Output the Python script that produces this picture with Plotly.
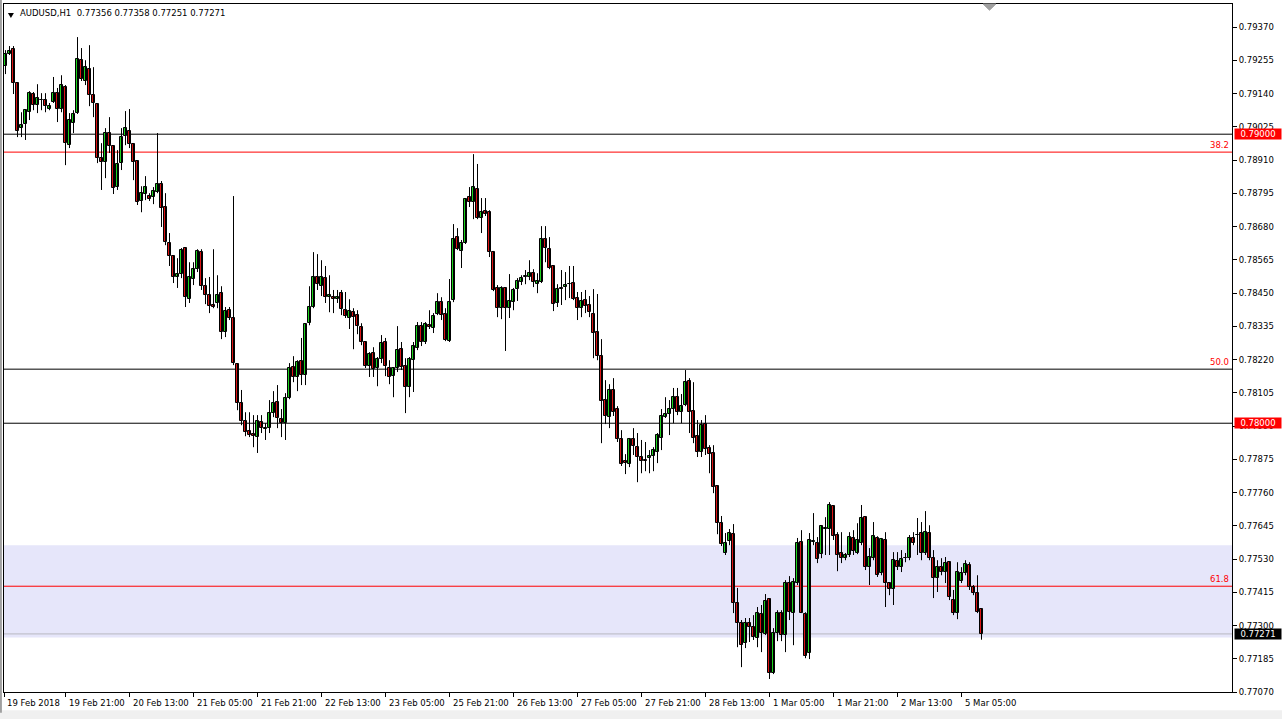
import plotly.graph_objects as go

# ---------------- data (AUDUSD H1) ----------------
opens = [0.79236,0.79277,0.79294,0.79177,0.79021,0.79035,0.79076,0.79139,0.79101,0.79118,
         0.79118,0.79087,0.79111,0.79142,0.79087,0.79163,0.78962,0.79038,0.79073,0.79256,
         0.79184,0.79225,0.79135,0.79104,0.78917,0.78903,0.79004,0.78959,0.78817,0.78900,
         0.78993,0.79011,0.78966,0.78907,0.78769,0.78793,0.78786,0.78782,0.78800,0.78827,
         0.78748,0.78623,0.78578,0.78506,0.78516,0.78606,0.78429,0.78499,0.78533,0.78592,
         0.78474,0.78443,0.78409,0.78416,0.78450,0.78315,0.78391,0.78364,0.78205,0.78070,
         0.78007,0.77973,0.77962,0.77952,0.78004,0.77980,0.77983,0.78035,0.78073,0.78014,
         0.78000,0.78087,0.78194,0.78160,0.78215,0.78166,0.78346,0.78402,0.78506,0.78474,
         0.78502,0.78436,0.78436,0.78429,0.78450,0.78391,0.78364,0.78384,0.78374,0.78333,
         0.78281,0.78198,0.78243,0.78191,0.78222,0.78281,0.78191,0.78163,0.78191,0.78256,
         0.78198,0.78125,0.78218,0.78260,0.78336,0.78281,0.78339,0.78329,0.78378,0.78419,
         0.78378,0.78284,0.78426,0.78644,0.78596,0.78623,0.78782,0.78765,0.78810,0.78710,
         0.78734,0.78730,0.78592,0.78468,0.78398,0.78468,0.78398,0.78419,0.78464,0.78488,
         0.78506,0.78506,0.78519,0.78481,0.78488,0.78637,0.78602,0.78544,0.78416,0.78468,
         0.78471,0.78481,0.78485,0.78433,0.78398,0.78426,0.78409,0.78378,0.78315,0.78232,
         0.78080,0.78021,0.78115,0.78049,0.77945,0.77869,0.77859,0.77945,0.77917,0.77883,
         0.77872,0.77879,0.77886,0.77900,0.77949,0.78021,0.78032,0.78049,0.78090,0.78038,
         0.78063,0.78146,0.78042,0.77955,0.77900,0.77997,0.77914,0.77897,0.77782,0.77654,
         0.77551,0.77592,0.77616,0.77378,0.77308,0.77239,0.77308,0.77295,0.77257,0.77340,
         0.77270,0.77391,0.77135,0.77274,0.77343,0.77267,0.77447,0.77343,0.77447,0.77589,
         0.77340,0.77205,0.77589,0.77585,0.77547,0.77634,0.77634,0.77713,0.77613,0.77551,
         0.77533,0.77544,0.77603,0.77551,0.77585,0.77675,0.77502,0.77533,0.77603,0.77481,
         0.77596,0.77447,0.77426,0.77523,0.77502,0.77533,0.77533,0.77603,0.77613,0.77620,
         0.77551,0.77620,0.77533,0.77464,0.77502,0.77485,0.77519,0.77388,0.77343,0.77454,
         0.77481,0.77509,0.77433,0.77412,0.77356]
highs = [0.79291,0.79305,0.79305,0.79180,0.79076,0.79087,0.79149,0.79146,0.79173,0.79142,
         0.79142,0.79108,0.79198,0.79160,0.79204,0.79170,0.79073,0.79083,0.79336,0.79298,
         0.79256,0.79308,0.79232,0.79108,0.78969,0.79021,0.79059,0.78960,0.78945,0.79021,
         0.79080,0.79087,0.78969,0.78910,0.78820,0.78855,0.78796,0.78817,0.79004,0.78838,
         0.78796,0.78658,0.78582,0.78571,0.78606,0.78609,0.78557,0.78557,0.78602,0.78602,
         0.78502,0.78506,0.78602,0.78512,0.78474,0.78402,0.78402,0.78786,0.78208,0.78115,
         0.78038,0.78038,0.78028,0.78028,0.78028,0.78000,0.78080,0.78111,0.78132,0.78049,
         0.78104,0.78208,0.78232,0.78218,0.78295,0.78346,0.78474,0.78592,0.78585,0.78564,
         0.78544,0.78512,0.78461,0.78461,0.78461,0.78454,0.78429,0.78398,0.78391,0.78346,
         0.78284,0.78246,0.78263,0.78229,0.78305,0.78295,0.78218,0.78194,0.78336,0.78281,
         0.78225,0.78229,0.78281,0.78350,0.78350,0.78350,0.78391,0.78381,0.78450,0.78436,
         0.78398,0.78499,0.78689,0.78675,0.78634,0.78779,0.78817,0.78931,0.78897,0.78779,
         0.78779,0.78737,0.78596,0.78478,0.78474,0.78471,0.78516,0.78468,0.78502,0.78512,
         0.78530,0.78564,0.78533,0.78519,0.78682,0.78682,0.78644,0.78547,0.78481,0.78530,
         0.78523,0.78544,0.78544,0.78454,0.78454,0.78461,0.78440,0.78464,0.78447,0.78291,
         0.78149,0.78135,0.78156,0.78059,0.77976,0.77893,0.77949,0.77983,0.77966,0.77942,
         0.77935,0.77907,0.77917,0.77966,0.78049,0.78090,0.78080,0.78122,0.78122,0.78101,
         0.78184,0.78156,0.78142,0.78011,0.78011,0.78028,0.77924,0.77924,0.77786,0.77679,
         0.77620,0.77634,0.77651,0.77430,0.77319,0.77326,0.77326,0.77336,0.77364,0.77371,
         0.77409,0.77395,0.77291,0.77353,0.77353,0.77457,0.77471,0.77464,0.77603,0.77630,
         0.77346,0.77620,0.77689,0.77606,0.77647,0.77675,0.77727,0.77717,0.77623,0.77623,
         0.77551,0.77623,0.77630,0.77654,0.77717,0.77679,0.77568,0.77658,0.77609,0.77603,
         0.77623,0.77450,0.77554,0.77554,0.77561,0.77551,0.77613,0.77623,0.77672,0.77658,
         0.77696,0.77647,0.77561,0.77526,0.77533,0.77537,0.77523,0.77423,0.77519,0.77502,
         0.77526,0.77519,0.77440,0.77474,0.77358]
lows = [0.79208,0.79274,0.79139,0.78990,0.78990,0.78980,0.79049,0.79083,0.79073,0.79083,
        0.79076,0.79083,0.79108,0.79042,0.79076,0.78893,0.78952,0.79004,0.79070,0.79184,
        0.79170,0.79097,0.79059,0.78900,0.78807,0.78848,0.78935,0.78793,0.78807,0.78876,
        0.78962,0.78952,0.78841,0.78755,0.78730,0.78772,0.78769,0.78758,0.78796,0.78679,
        0.78616,0.78544,0.78485,0.78468,0.78502,0.78402,0.78416,0.78478,0.78523,0.78461,
        0.78412,0.78381,0.78398,0.78398,0.78291,0.78298,0.78357,0.78201,0.78045,0.77993,
        0.77955,0.77952,0.77917,0.77897,0.77966,0.77942,0.77966,0.78021,0.77983,0.77952,
        0.77942,0.78083,0.78142,0.78111,0.78132,0.78132,0.78339,0.78398,0.78461,0.78440,
        0.78416,0.78384,0.78381,0.78416,0.78374,0.78364,0.78326,0.78256,0.78308,0.78270,
        0.78191,0.78160,0.78160,0.78128,0.78208,0.78163,0.78135,0.78090,0.78177,0.78184,
        0.78035,0.78090,0.78108,0.78253,0.78267,0.78274,0.78326,0.78312,0.78374,0.78357,
        0.78284,0.78281,0.78419,0.78599,0.78537,0.78620,0.78748,0.78706,0.78706,0.78658,
        0.78717,0.78575,0.78457,0.78367,0.78360,0.78250,0.78364,0.78391,0.78423,0.78478,
        0.78481,0.78495,0.78471,0.78450,0.78485,0.78557,0.78533,0.78388,0.78402,0.78409,
        0.78426,0.78433,0.78426,0.78357,0.78367,0.78381,0.78367,0.78225,0.78218,0.77931,
        0.77997,0.77983,0.78025,0.77935,0.77852,0.77824,0.77848,0.77890,0.77796,0.77827,
        0.77834,0.77827,0.77834,0.77862,0.77907,0.78018,0.77959,0.78000,0.78028,0.78000,
        0.78059,0.77966,0.77931,0.77883,0.77883,0.77890,0.77827,0.77758,0.77616,0.77575,
        0.77544,0.77578,0.77343,0.77225,0.77156,0.77222,0.77243,0.77250,0.77225,0.77208,
        0.77267,0.77115,0.77132,0.77246,0.77246,0.77208,0.77319,0.77232,0.77440,0.77343,
        0.77187,0.77184,0.77578,0.77516,0.77533,0.77544,0.77544,0.77596,0.77488,0.77516,
        0.77526,0.77537,0.77544,0.77547,0.77578,0.77492,0.77440,0.77526,0.77468,0.77474,
        0.77364,0.77405,0.77371,0.77492,0.77485,0.77519,0.77526,0.77578,0.77544,0.77526,
        0.77544,0.77526,0.77395,0.77416,0.77474,0.77447,0.77388,0.77336,0.77322,0.77447,
        0.77474,0.77423,0.77405,0.77343,0.77251]
closes = [0.79277,0.79288,0.79177,0.79011,0.79031,0.79083,0.79142,0.79101,0.79125,0.79120,
          0.79097,0.79097,0.79142,0.79087,0.79170,0.78969,0.79049,0.79070,0.79260,0.79191,
          0.79232,0.79135,0.79108,0.78917,0.78903,0.79004,0.78959,0.78814,0.78897,0.78990,
          0.79021,0.78966,0.78903,0.78765,0.78796,0.78817,0.78775,0.78803,0.78827,0.78744,
          0.78627,0.78578,0.78506,0.78516,0.78599,0.78436,0.78506,0.78533,0.78596,0.78474,
          0.78443,0.78405,0.78402,0.78443,0.78315,0.78388,0.78364,0.78208,0.78070,0.78007,
          0.77969,0.77959,0.77955,0.78007,0.77983,0.77983,0.78035,0.78070,0.78018,0.78000,
          0.78087,0.78191,0.78160,0.78211,0.78166,0.78343,0.78402,0.78506,0.78481,0.78506,
          0.78436,0.78443,0.78429,0.78436,0.78395,0.78371,0.78388,0.78367,0.78336,0.78281,
          0.78198,0.78239,0.78187,0.78222,0.78277,0.78198,0.78160,0.78191,0.78253,0.78194,
          0.78125,0.78222,0.78267,0.78336,0.78281,0.78343,0.78333,0.78371,0.78419,0.78374,
          0.78288,0.78419,0.78637,0.78602,0.78623,0.78775,0.78765,0.78817,0.78710,0.78730,
          0.78724,0.78592,0.78461,0.78398,0.78468,0.78398,0.78423,0.78461,0.78492,0.78502,
          0.78509,0.78519,0.78488,0.78492,0.78637,0.78606,0.78537,0.78412,0.78464,0.78464,
          0.78478,0.78482,0.78429,0.78398,0.78423,0.78405,0.78384,0.78312,0.78232,0.78077,
          0.78025,0.78115,0.78038,0.77945,0.77859,0.77862,0.77945,0.77921,0.77883,0.77869,
          0.77870,0.77886,0.77907,0.77959,0.78025,0.78032,0.78049,0.78090,0.78038,0.78059,
          0.78142,0.78038,0.77949,0.77900,0.77993,0.77910,0.77893,0.77779,0.77654,0.77582,
          0.77585,0.77620,0.77378,0.77308,0.77232,0.77308,0.77295,0.77260,0.77343,0.77274,
          0.77385,0.77135,0.77274,0.77343,0.77267,0.77447,0.77346,0.77450,0.77585,0.77345,
          0.77194,0.77596,0.77592,0.77530,0.77644,0.77637,0.77717,0.77609,0.77544,0.77533,
          0.77544,0.77606,0.77558,0.77596,0.77672,0.77502,0.77537,0.77609,0.77474,0.77599,
          0.77447,0.77426,0.77526,0.77502,0.77530,0.77534,0.77603,0.77585,0.77614,0.77551,
          0.77623,0.77533,0.77464,0.77502,0.77485,0.77516,0.77398,0.77343,0.77485,0.77481,
          0.77513,0.77433,0.77412,0.77346,0.77271]

date_labels = ["19 Feb 21:00", "20 Feb 13:00", "21 Feb 05:00", "21 Feb 21:00",
               "22 Feb 13:00", "23 Feb 05:00", "25 Feb 21:00", "26 Feb 13:00",
               "27 Feb 05:00", "27 Feb 21:00", "28 Feb 13:00", "1 Mar 05:00",
               "1 Mar 21:00", "2 Mar 13:00", "5 Mar 05:00"]
date_label_bars = [15, 31, 47, 63, 79, 95, 111, 127, 143, 159, 175, 191, 207, 223, 239]
first_label = "19 Feb 2018"

price_ticks = [0.79370, 0.79255, 0.79140, 0.79025, 0.78910, 0.78795, 0.78680,
               0.78565, 0.78450, 0.78335, 0.78220, 0.78105, 0.77990, 0.77875,
               0.77760, 0.77645, 0.77530, 0.77415, 0.77300, 0.77185, 0.77070]

hline_black = [0.79000, 0.78187, 0.78000]
fib_levels = {"38.2": 0.78938, "50.0": 0.78187, "61.8": 0.77436}
red_lines = [0.78938, 0.77436]
zone_low, zone_high = 0.77259, 0.77578
bid = 0.77271
boxed_prices = [(0.79000, "#ff0000"), (0.78000, "#ff0000"), (0.77271, "#000000")]
title_text = "AUDUSD,H1  0.77356 0.77358 0.77251 0.77271"

# ---------------- figure ----------------
n = len(opens)
xs = list(range(n))
FONT = "DejaVu Sans"
FS = 8.5
BULL = "#1ed21e"
BEAR = "#dc1414"

# wicks
wx, wy = [], []
for i in xs:
    wx += [i, i, None]
    wy += [lows[i], highs[i], None]

body_base = [min(o, c) for o, c in zip(opens, closes)]
body_len = [max(abs(c - o), 0.000015) for o, c in zip(opens, closes)]
body_col = [BULL if c >= o else BEAR for o, c in zip(opens, closes)]

fig = go.Figure()
fig.add_trace(go.Scatter(x=wx, y=wy, mode="lines", line=dict(color="black", width=1),
                         hoverinfo="skip", showlegend=False))
fig.add_trace(go.Bar(x=xs, y=body_len, base=body_base, width=0.62,
                     marker=dict(color=body_col, line=dict(color="black", width=1)),
                     hoverinfo="skip", showlegend=False))

x0, x1 = -0.375, 306.625
y0, y1 = 0.77070, 0.794505

shapes = []
shapes.append(dict(type="rect", xref="paper", yref="y", x0=0, x1=1, y0=zone_low, y1=zone_high,
                   fillcolor="#e6e6fa", line=dict(width=0), layer="below"))
for p in hline_black:
    shapes.append(dict(type="line", xref="paper", yref="y", x0=0, x1=1, y0=p, y1=p,
                       line=dict(color="#000000", width=1), layer="below"))
for p in red_lines:
    shapes.append(dict(type="line", xref="paper", yref="y", x0=0, x1=1, y0=p, y1=p,
                       line=dict(color="#ff0000", width=1), layer="below"))
shapes.append(dict(type="line", xref="paper", yref="y", x0=0, x1=1, y0=bid, y1=bid,
                   line=dict(color="#b8b8c0", width=1), layer="below"))
# bottom grey strip
shapes.append(dict(type="rect", xref="paper", yref="paper", x0=-0.01, x1=1.05, y0=-0.045, y1=-0.0265,
                   fillcolor="#f0f0f0", line=dict(width=0), layer="below"))
# left window frame
shapes.append(dict(type="rect", xref="paper", yref="paper", x0=-0.0033, x1=-0.0017, y0=-0.03, y1=1.006,
                   fillcolor="#a0a0a0", line=dict(width=0), layer="below"))
# chart-shift marker
shapes.append(dict(type="path", xref="x", yref="paper",
                   path="M 244.4 1 L 247.6 1 L 246 0.991 Z",
                   fillcolor="#a0a0a0", line=dict(color="#a0a0a0", width=1)))
# title triangle
shapes.append(dict(type="path", xref="x", yref="paper",
                   path="M 0.6 0.9868 L 2.1 0.9868 L 1.35 0.9795 Z",
                   fillcolor="#000000", line=dict(color="#000000", width=0)))

annotations = []
annotations.append(dict(text=title_text, xref="x", yref="paper", x=3.0, y=0.9866,
                        xanchor="left", yanchor="middle", showarrow=False,
                        font=dict(family=FONT, size=FS, color="black")))
annotations.append(dict(text=first_label, xref="x", yref="paper", x=x0, y=0,
                        xanchor="left", yanchor="top", yshift=-4, xshift=1, showarrow=False,
                        font=dict(family=FONT, size=FS, color="black")))
for b, t in zip(date_label_bars, date_labels):
    annotations.append(dict(text=t, xref="x", yref="paper", x=b, y=0,
                            xanchor="left", yanchor="top", yshift=-4, xshift=1, showarrow=False,
                            font=dict(family=FONT, size=FS, color="black")))
for lab, p in fib_levels.items():
    annotations.append(dict(text=lab, xref="paper", yref="y", x=1, y=p,
                            xanchor="right", yanchor="bottom", xshift=-1, showarrow=False,
                            font=dict(family=FONT, size=FS, color="#ff0000")))
for p, col in boxed_prices:
    annotations.append(dict(text="%.5f" % p, xref="paper", yref="y", x=1, y=p,
                            xanchor="left", yanchor="middle", xshift=2, showarrow=False,
                            bgcolor=col, borderpad=0, width=46,
                            font=dict(family=FONT, size=FS, color="white")))

fig.update_layout(
    width=1282, height=719,
    margin=dict(l=4, r=50, t=4, b=27, autoexpand=False),
    paper_bgcolor="white", plot_bgcolor="white",
    shapes=shapes, annotations=annotations,
    bargap=0,
    xaxis=dict(range=[x0, x1], showgrid=False, zeroline=False,
               showline=True, mirror=True, linecolor="black", linewidth=1,
               tickvals=[x0 + 0.05] + date_label_bars, ticks="outside", ticklen=4, tickcolor="black",
               showticklabels=False, fixedrange=True),
    yaxis=dict(range=[y0, y1], side="right", showgrid=False, zeroline=False,
               showline=True, mirror=True, linecolor="black", linewidth=1,
               tickvals=price_ticks, ticktext=["%.5f" % v for v in price_ticks],
               ticks="outside", ticklen=4, tickcolor="black",
               tickfont=dict(family=FONT, size=FS, color="black"), fixedrange=True),
    hovermode=False,
)

fig.write_html("out.html", config={"displayModeBar": False},
               post_script="document.body.style.margin='0';document.body.style.overflow='hidden';")
